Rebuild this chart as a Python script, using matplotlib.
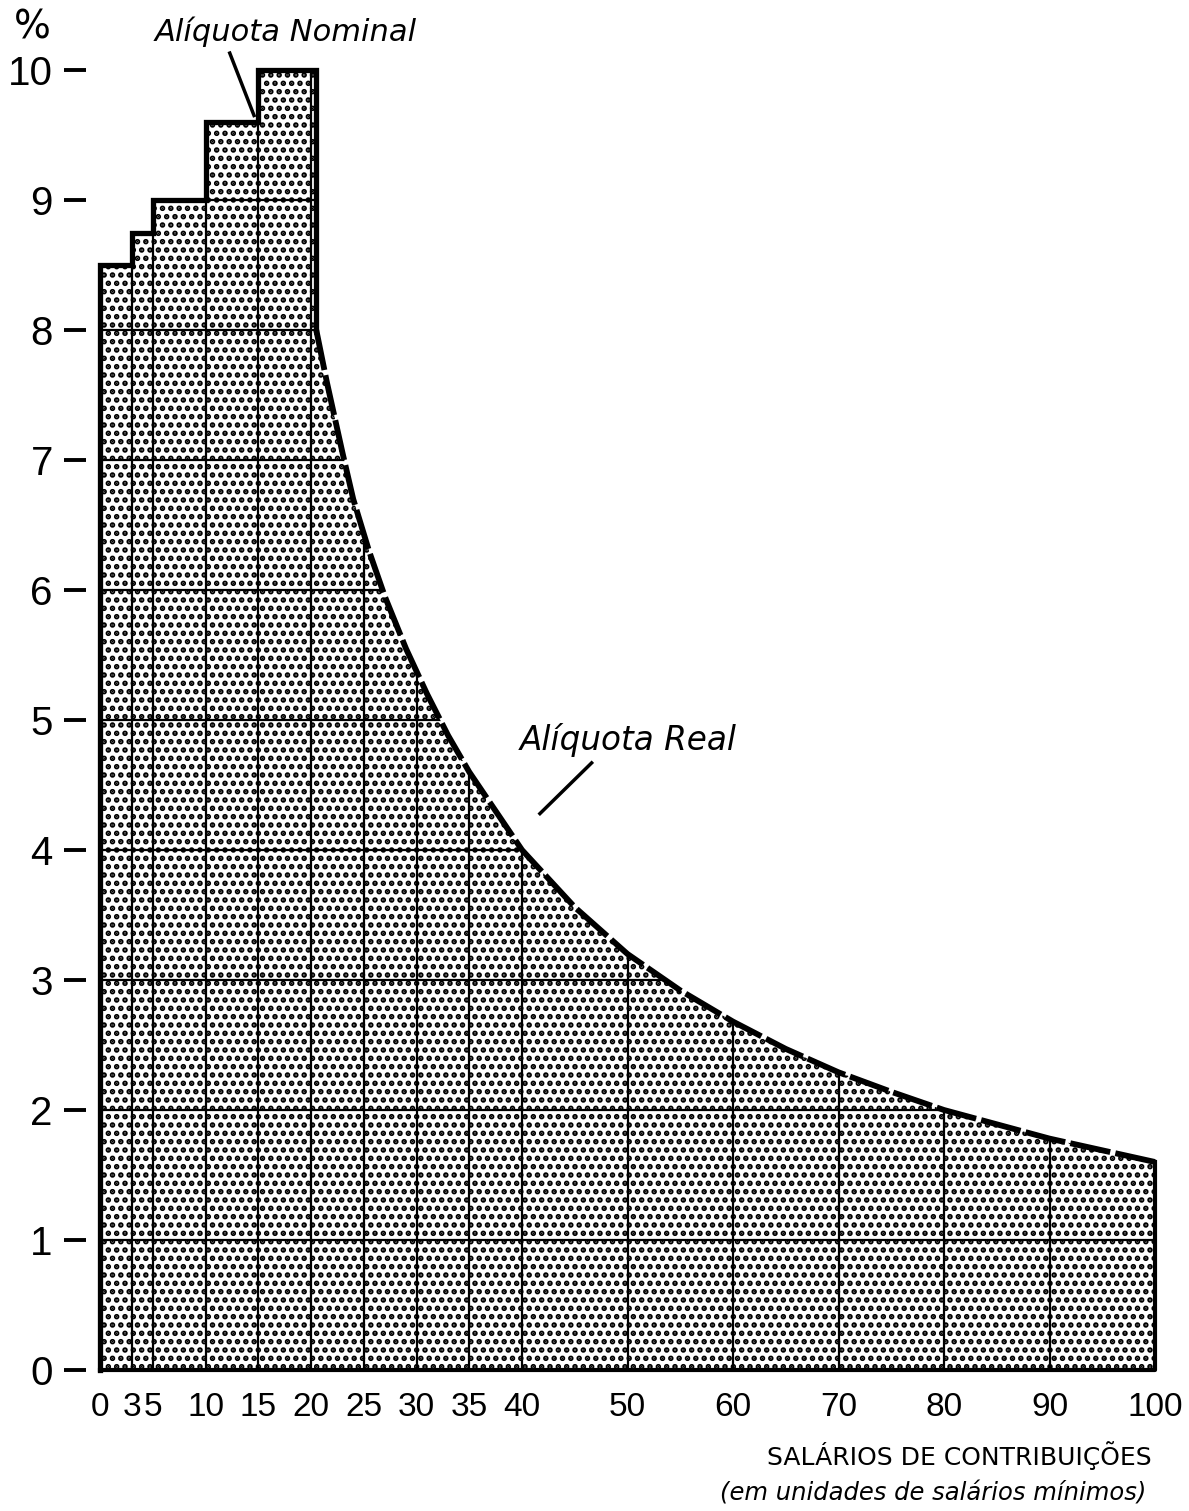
import numpy as np
import matplotlib.pyplot as plt

plt.rcParams['hatch.linewidth'] = 2.7

# aliquota nominal (degraus)
step_edges = [0, 3, 5, 10, 15, 20.5]
nominal = [8.5, 8.75, 9.0, 9.6, 10.0]

# aliquota real (curva tracejada)
real_x = [20.5, 21.5, 23, 24, 25.5, 27, 29, 31, 33, 35, 37.5, 40, 45, 50,
          55, 60, 65, 70, 75, 80, 85, 90, 95, 100]
real_y = [8.0, 7.6, 7.05, 6.7, 6.3, 5.95, 5.55, 5.2, 4.88, 4.6, 4.3, 4.0,
          3.56, 3.2, 2.92, 2.68, 2.47, 2.29, 2.14, 2.0, 1.89, 1.78, 1.69, 1.6]

xticks = [0, 3, 5, 10, 15, 20, 25, 30, 35, 40, 50, 60, 70, 80, 90, 100]
yticks = [0, 1, 2, 3, 4, 5, 6, 7, 8, 9, 10]

digits = ['Liberation Sans', 'DejaVu Sans']

fig = plt.figure(figsize=(11.89, 15.11), dpi=100)
ax = fig.add_axes([100/1189, 141/1511, 1055/1189, 1300/1511])
ax.set_xlim(0, 100)
ax.set_ylim(0, 10)

# contorno dos degraus
sx = [0]
sy = [0]
for i, v in enumerate(nominal):
    sx += [step_edges[i], step_edges[i+1]]
    sy += [v, v]

px = sx + real_x + [100]
py = sy + real_y + [0]

poly = ax.fill(px, py, facecolor='white', edgecolor='black', hatch='..', lw=0)[0]

# grade dentro da area
for yv in yticks[1:-1]:
    l, = ax.plot([0, 100], [yv, yv], color='black', lw=1.6)
    l.set_clip_path(poly)
for xv in xticks[1:-1]:
    l, = ax.plot([xv, xv], [0, 10], color='black', lw=1.6)
    l.set_clip_path(poly)

ax.plot(sx + [real_x[0]], sy + [real_y[0]], color='black', lw=3.8,
        solid_joinstyle='miter', clip_on=False)
ax.plot(real_x, real_y, color='black', lw=4.2, dashes=(7, 0.9), clip_on=False)
ax.plot([100, 100, 0], [real_y[-1], 0, 0], color='black', lw=3, clip_on=False)

for s in ax.spines.values():
    s.set_visible(False)
ax.spines['left'].set_position(('outward', 10))

ax.set_yticks(yticks)
ax.set_yticklabels([str(v) for v in yticks], family=digits, fontsize=29)
ax.tick_params(axis='y', length=16, width=2.8, pad=8)
ax.set_xticks(xticks)
ax.set_xticklabels([str(v) for v in xticks], family=digits, fontsize=24)
ax.tick_params(axis='x', length=0, pad=16)

ax.text(-6.4, 10.33, '%', fontsize=28, ha='center', va='center', clip_on=False)

ax.text(5.2, 10.22, 'Alíquota Nominal', fontsize=22, style='italic',
        ha='left', va='baseline', clip_on=False)
ax.plot([12.3, 14.6], [10.13, 9.65], color='black', lw=2.5, clip_on=False)

ax.text(39.8, 4.77, 'Alíquota Real', fontsize=23.5, style='italic',
        ha='left', va='baseline')
ax.plot([41.7, 46.6], [4.28, 4.67], color='black', lw=2.5)

fig.text(1152/1189, 1 - 1465/1511, 'SALÁRIOS DE CONTRIBUIÇÕES', fontsize=18,
         ha='right', va='baseline')
fig.text(1146/1189, 1 - 1500/1511, '(em unidades de salários mínimos)',
         fontsize=17.5, style='italic', ha='right', va='baseline')

fig.savefig('out.png', dpi=100)
